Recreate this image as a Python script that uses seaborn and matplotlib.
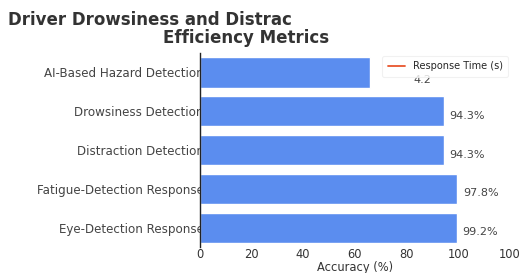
import matplotlib
matplotlib.use("Agg")
import matplotlib.pyplot as plt
import seaborn as sns
import pandas as pd

# ── Data ─────────────────────────────────────────────────────────────────────
systems = ["AI-Based Hazard Detection", "Drowsiness Detection", "Distraction Detection",
           "Fatigue-Detection Response", "Eye-Detection Response"]
accuracy = [66.0, 94.3, 94.3, 99.6, 99.4]
value_labels = ["4.2", "94.3%", "94.3%", "97.8%", "99.2%"]
x_ticks = [0, 20, 40, 60, 80, 100, 120]
x_tick_labels = ["0", "20", "40", "60", "80", "100", "100"]

df = pd.DataFrame({"System": systems, "Accuracy": accuracy})

# ── Style ────────────────────────────────────────────────────────────────────
sns.set_theme(style="white")
plt.rcParams["font.family"] = ["DejaVu Sans"]

fig = plt.figure(figsize=(5.23, 2.73), dpi=100)
ax = fig.add_axes([0.382, 0.095, 0.593, 0.711])

sns.barplot(data=df, x="Accuracy", y="System", orient="h", color="#5B8DEF",
            saturation=1, width=0.78, ax=ax, zorder=3)

for i, (v, lab) in enumerate(zip(accuracy, value_labels)):
    if i == 0:
        ax.text(v + 16.5, i + 0.2, lab, va="center", ha="left", fontsize=8, color="#444444")
    else:
        ax.text(v + 2.3, i + 0.12, lab, va="center", ha="left", fontsize=8, color="#444444")

# legend entry for the response-time series
ax.plot([], [], color="#E8552D", lw=1.3, label="Response Time (s)")
leg = ax.legend(loc="upper right", bbox_to_anchor=(1.01, 1.01), fontsize=7, frameon=True,
                handlelength=1.8, borderpad=0.55, fancybox=True)
leg.get_frame().set_edgecolor("#eeeeee")
leg.get_frame().set_linewidth(0.8)

ax.set_xlim(0, 120)
ax.set_ylim(4.5, -0.5)
ax.set_xticks(x_ticks)
ax.set_xticklabels(x_tick_labels, fontsize=8.3, color="#333333")
ax.tick_params(axis="y", labelsize=8.6, labelcolor="#444444", pad=-3, length=0)
ax.tick_params(axis="x", pad=1, length=0)
ax.set_ylabel("")
ax.set_xlabel("Accuracy (%)", fontsize=8.3, color="#333333", labelpad=0)

for s in ["top", "right", "bottom"]:
    ax.spines[s].set_visible(False)
ax.spines["left"].set_color("#222222")
ax.spines["left"].set_linewidth(1.0)
ax.spines["left"].set_zorder(4)

fig.text(0.015, 0.927, "Driver Drowsiness and Distrac", fontsize=12, fontweight="bold",
         color="#333333", ha="left", va="center")
fig.text(0.47, 0.862, "Efficiency Metrics", fontsize=12, fontweight="bold",
         color="#333333", ha="center", va="center")

fig.savefig("out.png", dpi=100)
